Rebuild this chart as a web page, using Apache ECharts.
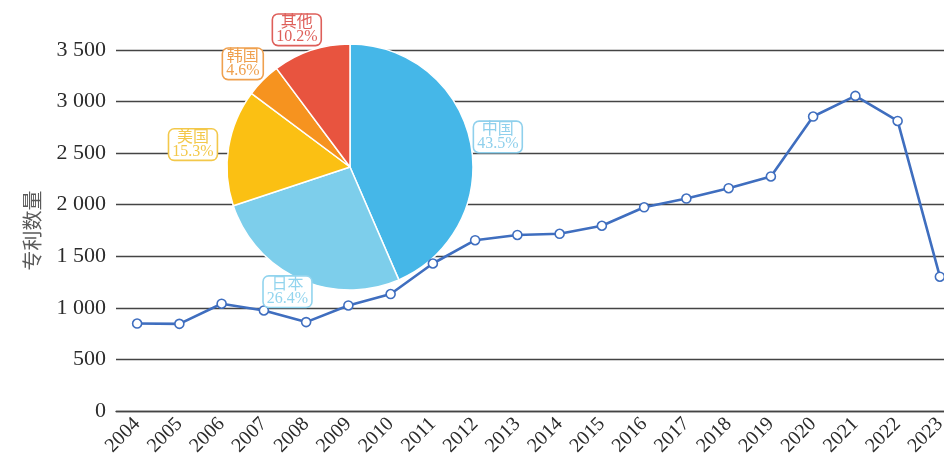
<!DOCTYPE html>
<html>
<head>
<meta charset="utf-8">
<script src="https://cdn.jsdelivr.net/npm/echarts@6/dist/echarts.min.js"></script>
<style>
  html, body { margin: 0; padding: 0; background: #fff; overflow: hidden; }
  /* the plot runs a little past the right edge of the page */
  #chart { width: 961px; height: 461px; }
</style>
</head>
<body>
<div id="chart"></div>
<script>
// Patent counts per year
const years = ['2004','2005','2006','2007','2008','2009','2010','2011','2012','2013',
               '2014','2015','2016','2017','2018','2019','2020','2021','2022','2023'];
const patentCounts = [848, 845, 1040, 975, 862, 1023, 1134, 1430, 1656, 1707,
                      1718, 1796, 1975, 2060, 2160, 2274, 2855, 3055, 2812, 1302];

// Share of patents by country / region (%)
const regions = ['中国', '日本', '美国', '韩国', '其他'];
const regionShares = [43.5, 26.4, 15.3, 4.6, 10.2];

const sliceColors = ['#45B7E8', '#7DCEEB', '#FBC013', '#F6931F', '#E8543F'];
const labelColors = ['#8FD0EC', '#92D4EE', '#F3C84A', '#EFA04E', '#DE5F5A'];
// small per-label nudges so the callouts don't crowd the line
const labelNudges = [[-2, 1], [0, -15], [-6, 2], [1, 5], [-5, 8]];

const serif = '"Liberation Serif", "Noto Sans CJK SC", serif';

function fmtThousands(v) {
  const s = String(v);
  return s.length > 3 ? s.slice(0, s.length - 3) + ' ' + s.slice(-3) : s;
}

const pieData = regions.map((name, i) => ({
  name: name,
  value: regionShares[i],
  itemStyle: { color: sliceColors[i] }
}));

const labelData = regions.map((name, i) => ({
  name: name,
  value: regionShares[i],
  label: {
    color: labelColors[i],
    borderColor: labelColors[i],
    offset: labelNudges[i]
  }
}));

const chart = echarts.init(document.getElementById('chart'), null, { renderer: 'canvas' });

chart.setOption({
  animation: false,
  backgroundColor: '#ffffff',
  grid: { left: 116, right: 0, top: 50, bottom: 50, containLabel: false },
  xAxis: {
    type: 'category',
    data: years,
    boundaryGap: true,
    axisLine: { show: true, lineStyle: { color: '#444', width: 1.4 } },
    axisTick: { show: false },
    axisLabel: {
      interval: 0,
      rotate: 45,
      margin: 10,
      fontFamily: serif,
      fontSize: 20,
      color: '#2b2b2b'
    }
  },
  yAxis: {
    type: 'value',
    min: 0,
    max: 3500,
    interval: 500,
    name: '专利数量',
    nameLocation: 'middle',
    nameRotate: 90,
    nameGap: 74,
    nameTextStyle: { fontFamily: '"Noto Sans CJK SC", sans-serif', fontSize: 20, color: '#5a5a5a' },
    axisLine: { show: false },
    axisTick: { show: false },
    axisLabel: {
      margin: 10,
      fontFamily: serif,
      fontSize: 22,
      color: '#2b2b2b',
      formatter: fmtThousands
    },
    splitLine: { show: true, lineStyle: { color: '#444', width: 1.4 } }
  },
  series: [
    {
      type: 'pie',
      z: 1,
      center: [350, 167],
      radius: 123,
      startAngle: 90,
      clockwise: true,
      silent: true,
      label: { show: false },
      labelLine: { show: false },
      itemStyle: { borderColor: '#ffffff', borderWidth: 1.5 },
      data: pieData
    },
    {
      type: 'line',
      z: 3,
      data: patentCounts,
      symbol: 'circle',
      symbolSize: 9,
      lineStyle: { color: '#3F6EBF', width: 2.6 },
      itemStyle: { color: '#ffffff', borderColor: '#3F6EBF', borderWidth: 1.6 }
    },
    {
      // label ring: transparent slices whose inside labels sit just outside the pie
      type: 'pie',
      z: 4,
      center: [350, 167],
      radius: [140, 160],
      startAngle: 90,
      clockwise: true,
      silent: true,
      itemStyle: { color: 'rgba(0,0,0,0)' },
      labelLine: { show: false },
      label: {
        show: true,
        position: 'inside',
        formatter: '{b}\n{c}%',
        fontFamily: serif,
        fontSize: 16,
        lineHeight: 14,
        backgroundColor: '#ffffff',
        borderWidth: 1.6,
        borderRadius: 5,
        padding: [1, 3, 1, 3],
        align: 'center'
      },
      data: labelData
    }
  ]
});
</script>
</body>
</html>
